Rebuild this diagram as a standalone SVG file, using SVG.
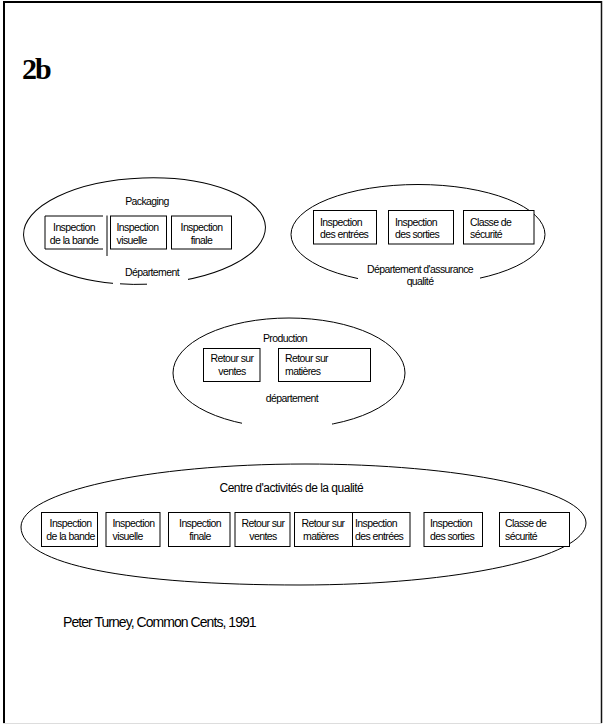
<svg xmlns="http://www.w3.org/2000/svg" width="604" height="725" viewBox="0 0 604 725">
  <style>
    .frame { fill: none; }
    .shape { fill: none; stroke: #000; stroke-width: 1; }
    .box { fill: #fff; stroke: #000; stroke-width: 1; }
    .mask { fill: #fff; stroke: none; }
    .t { font-family: "Liberation Sans", Arial, sans-serif; font-size: 10.5px; letter-spacing: -0.6px; fill: #000; }
    .c { text-anchor: middle; }
    .big { font-size: 12px; letter-spacing: -0.5px; }
    .title { font-family: "Liberation Serif", "Times New Roman", serif; font-weight: bold; font-size: 30px; letter-spacing: -2px; fill: #000; }
    .credit { font-family: "Liberation Sans", Arial, sans-serif; font-size: 14px; letter-spacing: -0.95px; fill: #000; }
  </style>

  <rect width="604" height="725" fill="#fff"/>

  <!-- page frame -->
  <g id="frame">
    <line x1="3" y1="2" x2="602" y2="2" stroke="#000" stroke-width="2"/>
    <line x1="4" y1="1" x2="4" y2="723" stroke="#000" stroke-width="2"/>
    <line x1="601.5" y1="1" x2="601.5" y2="723" stroke="#111" stroke-width="1.5"/>
    <line x1="3" y1="723.5" x2="602" y2="723.5" stroke="#ddd" stroke-width="1"/>
  </g>

  <text class="title" x="22" y="79">2b</text>

  <!-- Packaging department -->
  <g id="packaging">
    <ellipse class="shape" cx="144.5" cy="231" rx="121" ry="53" transform="rotate(-2 144.5 231)"/>
    <rect class="mask" x="113" y="266" width="75" height="20"/>
    <!-- lowest part of the outline, showing under the label -->
    <path class="shape" d="M120,283.8 Q133,284.8 147,284.2"/>
    <text class="t c" x="147" y="205">Packaging</text>
    <path class="shape" d="M103,216 H45 V249 H103"/>
    <line class="shape" x1="107" y1="215.5" x2="107" y2="256"/>
    <text class="t c" x="74" y="231">Inspection</text>
    <text class="t c" x="74" y="243.5">de la bande</text>
    <rect class="box" x="110.5" y="216" width="56" height="33"/>
    <text class="t" x="116.5" y="231">Inspection</text>
    <text class="t" x="116.5" y="243.5">visuelle</text>
    <rect class="box" x="171.5" y="216" width="60" height="33"/>
    <text class="t c" x="201.5" y="231">Inspection</text>
    <text class="t c" x="201.5" y="243.5">finale</text>
    <text class="t c" x="152" y="276">Département</text>
  </g>

  <!-- Quality assurance department -->
  <g id="assurance">
    <ellipse class="shape" cx="418" cy="234.5" rx="127" ry="50"/>
    <rect class="mask" x="358" y="262" width="122" height="30"/>
    <rect class="box" x="313.5" y="210.5" width="63" height="33.5"/>
    <text class="t" x="320" y="226">Inspection</text>
    <text class="t" x="320" y="238">des entrées</text>
    <rect class="box" x="388.5" y="210.5" width="65" height="33.5"/>
    <text class="t" x="395" y="226">Inspection</text>
    <text class="t" x="395" y="238">des sorties</text>
    <rect class="box" x="463.5" y="210.5" width="70.5" height="33.5"/>
    <text class="t" x="470" y="226">Classe de</text>
    <text class="t" x="470" y="238">sécurité</text>
    <text class="t c" x="420" y="273">Département d'assurance</text>
    <text class="t c" x="420" y="285">qualité</text>
  </g>

  <!-- Production department -->
  <g id="production">
    <ellipse class="shape" cx="289" cy="373" rx="116" ry="55"/>
    <rect class="mask" x="242" y="390" width="90" height="42"/>
    <text class="t c" x="285" y="341.5">Production</text>
    <rect class="box" x="203.5" y="348.5" width="56.5" height="33"/>
    <text class="t c" x="232" y="362">Retour sur</text>
    <text class="t c" x="232" y="375">ventes</text>
    <rect class="box" x="278.5" y="348.5" width="92" height="33"/>
    <text class="t" x="285" y="362">Retour sur</text>
    <text class="t" x="285" y="375">matières</text>
    <text class="t c" x="292" y="401.5">département</text>
  </g>

  <!-- Quality activity centre -->
  <g id="centre">
    <path class="shape" d="M21,527 C21,492 148,464 305,464 C460,464 586,490 586,523 C586,557 458,585 300,585 C130,585 21,565 21,527 Z"/>
    <text class="t big" x="219.5" y="491.5">Centre d'activités de la qualité</text>
    <rect class="box" x="41.5" y="512.5" width="56" height="34"/>
    <text class="t c" x="70.5" y="526.5">Inspection</text>
    <text class="t c" x="70.5" y="540">de la bande</text>
    <rect class="box" x="106" y="512.5" width="54" height="34"/>
    <text class="t" x="112.5" y="526.5">Inspection</text>
    <text class="t" x="112.5" y="540">visuelle</text>
    <rect class="box" x="168.5" y="512.5" width="61.5" height="34"/>
    <text class="t c" x="200" y="526.5">Inspection</text>
    <text class="t c" x="200" y="540">finale</text>
    <rect class="box" x="235" y="512.5" width="55" height="34"/>
    <text class="t c" x="263" y="526.5">Retour sur</text>
    <text class="t c" x="263" y="540">ventes</text>
    <rect class="box" x="294.5" y="512.5" width="58" height="34"/>
    <text class="t" x="301.5" y="526.5">Retour sur</text>
    <text class="t" x="303" y="540">matières</text>
    <rect class="box" x="352.5" y="512.5" width="57.5" height="34"/>
    <text class="t" x="355" y="526.5">Inspection</text>
    <text class="t" x="355" y="540">des entrées</text>
    <rect class="box" x="424" y="512.5" width="58.5" height="34"/>
    <text class="t" x="430" y="526.5">Inspection</text>
    <text class="t" x="430" y="540">des sorties</text>
    <rect class="box" x="499.5" y="512.5" width="70" height="34"/>
    <text class="t" x="505" y="526.5">Classe de</text>
    <text class="t" x="505" y="540">sécurité</text>
  </g>

  <text class="credit" x="63" y="627">Peter Turney, Common Cents, 1991</text>
</svg>
